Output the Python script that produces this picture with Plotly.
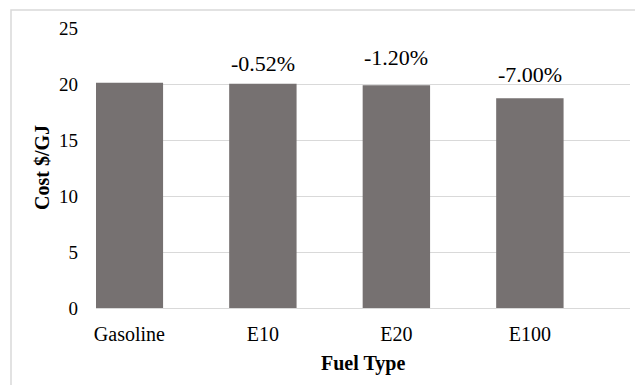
import plotly.graph_objects as go

categories = ["Gasoline", "E10", "E20", "E100"]
cost = [20.12, 20.02, 19.88, 18.72]
change_labels = ["", "-0.52%", "-1.20%", "-7.00%"]
y_ticks = [0, 5, 10, 15, 20, 25]

label_shift = [0, 6, 13, 9]

W, H = 635, 385
L, R, T, B = 96, 5, 28, 77
FONT = "Liberation Serif"
GRID = "#d9d9d9"

fig = go.Figure()
fig.add_trace(go.Bar(
    x=categories, y=cost, width=0.505,
    marker=dict(color="#767171", line=dict(width=0)),
    hoverinfo="skip",
))

for c, v, t, s in zip(categories, cost, change_labels, label_shift):
    if t:
        fig.add_annotation(x=c, y=v, text=t, showarrow=False, yanchor="bottom",
                           yshift=s, font=dict(family=FONT, size=22, color="#000000"))

fig.add_annotation(xref="paper", yref="paper", x=0, y=0.5, xshift=-54, text="<b>Cost $/GJ</b>",
                   textangle=-90, showarrow=False, xanchor="center", yanchor="middle",
                   font=dict(family=FONT, size=20, color="#000000"))
fig.add_annotation(xref="paper", yref="paper", x=0.5, y=0, yshift=-55, text="<b>Fuel Type</b>",
                   showarrow=False, xanchor="center", yanchor="middle",
                   font=dict(family=FONT, size=20, color="#000000"))

pw, ph = W - L - R, H - T - B
fig.add_shape(type="rect", xref="paper", yref="paper",
              x0=(11 - L) / pw, x1=(W + 5 - L) / pw,
              y0=-(H + 5 - (H - B)) / ph, y1=((H - B) - 10) / ph,
              line=dict(color=GRID, width=1.5), fillcolor="rgba(0,0,0,0)", layer="below")

fig.update_layout(
    width=W, height=H,
    margin=dict(l=L, r=R, t=T, b=B, pad=0),
    paper_bgcolor="white", plot_bgcolor="white",
    showlegend=False,
    font=dict(family=FONT, color="#000000"),
    xaxis=dict(range=[-0.25, 3.75], showgrid=False, showline=True, linecolor=GRID, linewidth=1,
               ticks="", tickfont=dict(family=FONT, size=20, color="#000000"),
               ticklabelstandoff=8, fixedrange=True, automargin=False),
    yaxis=dict(range=[0, 25], tickvals=y_ticks, showgrid=True, gridcolor=GRID, gridwidth=1,
               zeroline=False, showline=False, ticks="",
               tickfont=dict(family=FONT, size=19, color="#000000"),
               ticklabelstandoff=17, fixedrange=True, automargin=False),
    bargap=0.5,
)

fig.write_html("out.html", config={"displayModeBar": False},
               post_script="document.body.style.margin='0';document.body.style.overflow='hidden';")
